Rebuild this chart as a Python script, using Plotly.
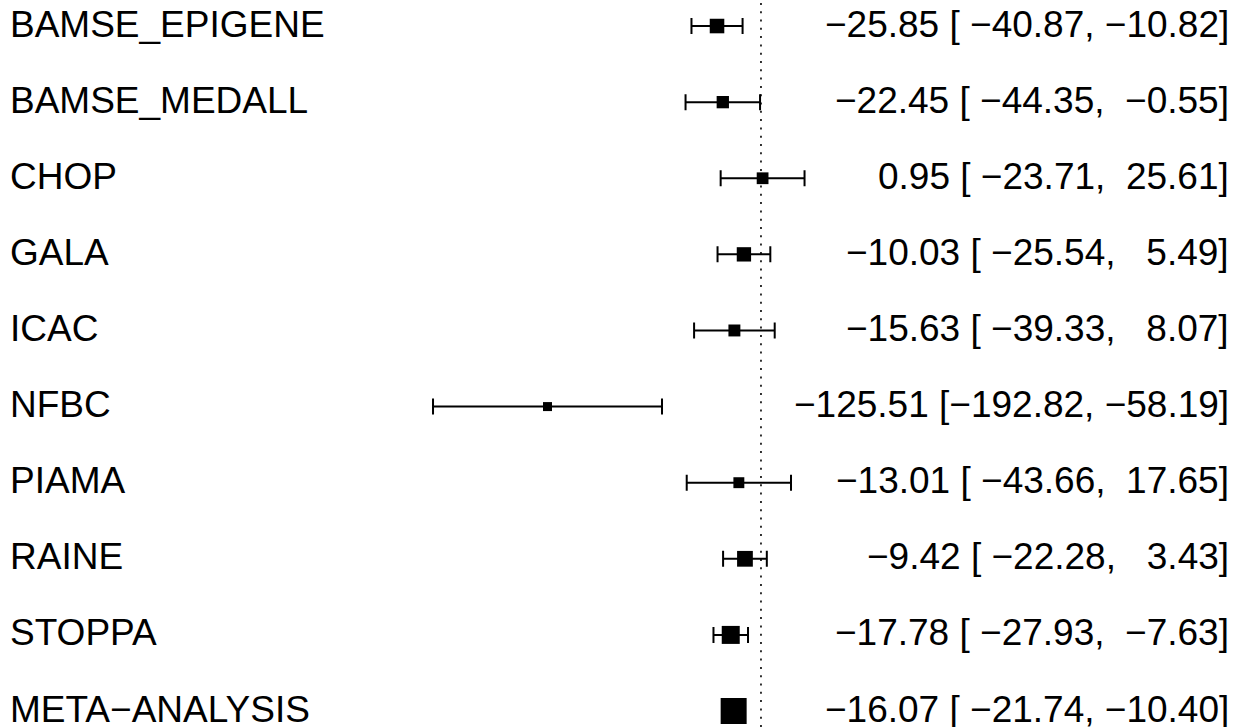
import plotly.graph_objects as go

studies = ["BAMSE_EPIGENE", "BAMSE_MEDALL", "CHOP", "GALA", "ICAC",
           "NFBC", "PIAMA", "RAINE", "STOPPA"]
est = [-25.85, -22.45, 0.95, -10.03, -15.63, -125.51, -13.01, -9.42, -17.78]
ci_lo = [-40.87, -44.35, -23.71, -25.54, -39.33, -192.82, -43.66, -22.28, -27.93]
ci_hi = [-10.82, -0.55, 25.61, 5.49, 8.07, -58.19, 17.65, 3.43, -7.63]

meta_label = "META\u2212ANALYSIS"
meta_est = -16.07
meta_lo = -21.74
meta_hi = -10.40

FONT = "Liberation Sans, Arial, Helvetica, sans-serif"
FS = 37

n = len(studies)
rows = list(range(n + 1, 1, -1))  # 10..2 for studies, 1 for meta
meta_row = 1

# square sizes from inverse CI width (metafor-like scaling)
w = [1.0 / (h - l) for l, h in zip(ci_lo, ci_hi)]
wmin, wmax = min(w), max(w)
sizes = [9 + 9 * (x - wmin) / (wmax - wmin) for x in w]


def fmt(v, width):
    s = f"{abs(v):.2f}"
    if v < 0:
        s = "\u2212" + s
    return "\u00a0" * max(0, width - len(s)) + s


def ci_text(e, l, h):
    return f"{fmt(e, 0)} [{fmt(l, 7)}, {fmt(h, 6)}]"


fig = go.Figure()

fig.add_shape(type="line", x0=0, x1=0, xref="x", y0=0, y1=1, yref="paper",
              line=dict(color="black", width=1.6, dash="2px,6.3px"), layer="below")

fig.add_trace(go.Scatter(
    x=est, y=rows[:n], mode="markers",
    marker=dict(symbol="square", size=sizes, color="black", opacity=1,
                line=dict(width=0)),
    error_x=dict(type="data", symmetric=False,
                 array=[h - e for e, h in zip(est, ci_hi)],
                 arrayminus=[e - l for e, l in zip(est, ci_lo)],
                 color="black", thickness=2, width=8),
    hoverinfo="skip", showlegend=False))

fig.add_trace(go.Scatter(
    x=[meta_est], y=[meta_row], mode="markers",
    marker=dict(symbol="square", size=26, color="black", opacity=1,
                line=dict(width=0)),
    hoverinfo="skip", showlegend=False))

labels = studies + [meta_label]
all_rows = rows[:n] + [meta_row]
texts = [ci_text(e, l, h) for e, l, h in zip(est, ci_lo, ci_hi)] + \
        [ci_text(meta_est, meta_lo, meta_hi)]

for lab, r, t in zip(labels, all_rows, texts):
    fig.add_annotation(x=8 / 1242, xref="paper", y=r, yref="y", text=lab,
                       showarrow=False, xanchor="left", yanchor="middle",
                       yshift=2,
                       font=dict(family=FONT, size=FS, color="black"))
    fig.add_annotation(x=1231 / 1242, xref="paper", y=r, yref="y", text=t,
                       showarrow=False, xanchor="right", yanchor="middle",
                       yshift=2,
                       font=dict(family=FONT, size=FS, color="black"))

fig.update_layout(
    width=1242, height=727,
    margin=dict(l=0, r=0, t=0, b=0),
    paper_bgcolor="white", plot_bgcolor="white",
    xaxis=dict(range=[-447.4, 282.8], visible=False, fixedrange=True),
    yaxis=dict(range=[0.79, 10.342], visible=False, fixedrange=True),
    showlegend=False,
)

fig.write_html("out.html", config={"displayModeBar": False},
               post_script="document.body.style.margin='0';document.body.style.padding='0';")
